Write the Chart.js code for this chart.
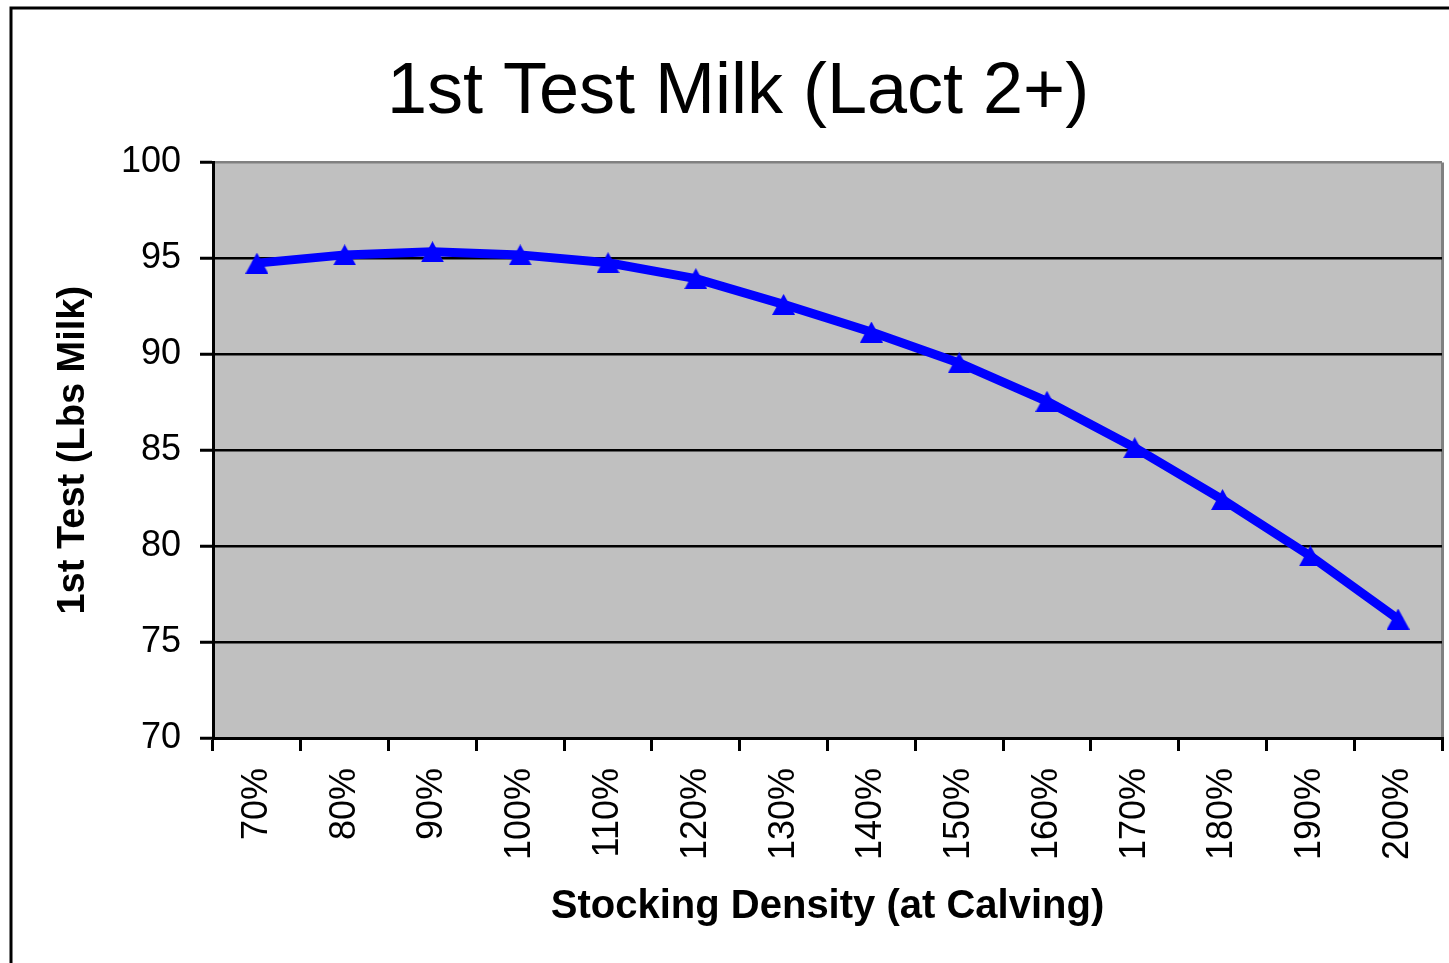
<!DOCTYPE html>
<html>
<head>
<meta charset="utf-8">
<title>1st Test Milk (Lact 2+)</title>
<script src="https://cdn.jsdelivr.net/npm/chart.js@4.4.1/dist/chart.umd.min.js"></script>
<style>
    body { margin: 0; background: #fff; }
    canvas { display: block; }
</style>
</head>
<body>
<canvas id="line-graph-canvas" width="1449" height="963"></canvas>
<script>
// chart data
const categories = ['70%', '80%', '90%', '100%', '110%', '120%', '130%', '140%', '150%', '160%', '170%', '180%', '190%', '200%'];
const firstTestMilk = [94.75, 95.18, 95.34, 95.18, 94.77, 93.94, 92.6, 91.16, 89.55, 87.55, 85.13, 82.43, 79.49, 76.2];
const yTicks = [70, 75, 80, 85, 90, 95, 100];

const chartTitle = '1st Test Milk (Lact 2+)';
const xTitle = 'Stocking Density (at Calving)';
const yTitle = '1st Test (Lbs Milk)';

const FONT = '"Liberation Sans", Arial, sans-serif';

// triangle marker like the excel one
function triangleMarker(w, h, color) {
    let c = document.createElement('canvas');
    c.width = w;
    c.height = h;
    let g = c.getContext('2d');
    g.fillStyle = color;
    g.beginPath();
    g.moveTo(w / 2, 0);
    g.lineTo(w, h);
    g.lineTo(0, h);
    g.closePath();
    g.fill();
    return c;
}

// white page, outer frame and grey plot area
const backgroundPlugin = {
    id: 'background',
    beforeDraw(chart) {
        let ctx = chart.ctx;
        let a = chart.chartArea;
        ctx.save();
        ctx.fillStyle = '#ffffff';
        ctx.fillRect(0, 0, chart.width, chart.height);
        ctx.strokeStyle = '#000000';
        ctx.lineWidth = 3;
        ctx.strokeRect(11, 8, chart.width + 20, chart.height + 20);
        ctx.fillStyle = '#c0c0c0';
        ctx.fillRect(a.left, a.top, a.right - a.left, a.bottom - a.top);
        ctx.restore();
    }
};

let ctx = document.getElementById('line-graph-canvas').getContext('2d');
let chart = new Chart(ctx, {
    type: 'line',
    data: {
        labels: categories,
        datasets: [{
            label: yTitle,
            data: firstTestMilk,
            fill: false,
            lineTension: 0,
            borderColor: '#0000ff',
            backgroundColor: '#0000ff',
            borderWidth: 9,
            borderJoinStyle: 'round',
            borderCapStyle: 'round',
            pointStyle: triangleMarker(23, 21, '#0000ff'),
            pointRadius: 11
        }]
    },
    options: {
        responsive: false,
        devicePixelRatio: 1,
        animation: false,
        layout: {
            autoPadding: false,
            padding: { left: 34, right: 7, top: 0, bottom: 0 }
        },
        plugins: {
            legend: { display: false },
            tooltip: { enabled: false },
            title: {
                display: true,
                text: chartTitle,
                color: '#000',
                font: { family: FONT, size: 72, weight: 'normal' },
                padding: { top: 50, bottom: 26 }
            }
        },
        scales: {
            x: {
                type: 'category',
                offset: true,
                afterFit(scale) {
                    scale.height = 225;
                    scale.paddingLeft = 0;
                    scale.paddingRight = 0;
                },
                border: { display: true, color: '#000', width: 3 },
                grid: {
                    offset: true,
                    drawOnChartArea: true,
                    drawTicks: true,
                    tickLength: 13,
                    tickColor: '#000',
                    tickWidth: 3,
                    lineWidth: 3,
                    // only the right edge of the plot gets a grey line
                    color: function(c) {
                        return c.type === 'scale' ? '#808080' : 'rgba(0,0,0,0)';
                    }
                },
                ticks: {
                    autoSkip: false,
                    maxRotation: 90,
                    minRotation: 90,
                    padding: 17,
                    color: '#000',
                    font: { family: FONT, size: 36 }
                },
                title: {
                    display: true,
                    text: xTitle,
                    color: '#000',
                    font: { family: FONT, size: 40, weight: 'bold' },
                    padding: { top: 0, bottom: 32 }
                }
            },
            y: {
                min: yTicks[0],
                max: yTicks[yTicks.length - 1],
                afterFit(scale) {
                    scale.width = 179;
                },
                afterBuildTicks(scale) {
                    scale.ticks = yTicks.map(v => ({ value: v }));
                },
                border: { display: true, color: '#000', width: 3 },
                grid: {
                    drawTicks: true,
                    tickLength: 13,
                    tickColor: '#000',
                    tickWidth: 3,
                    lineWidth: 2.5,
                    color: function(c) {
                        if (c.tick && c.tick.value === 100) return '#808080';
                        return '#000';
                    }
                },
                ticks: {
                    padding: 19,
                    color: '#000',
                    font: { family: FONT, size: 36 }
                },
                title: {
                    display: true,
                    text: yTitle,
                    color: '#000',
                    font: { family: FONT, size: 38, weight: 'bold' },
                    padding: { top: 17, bottom: 0 }
                }
            }
        }
    },
    plugins: [backgroundPlugin]
});
</script>
</body>
</html>
